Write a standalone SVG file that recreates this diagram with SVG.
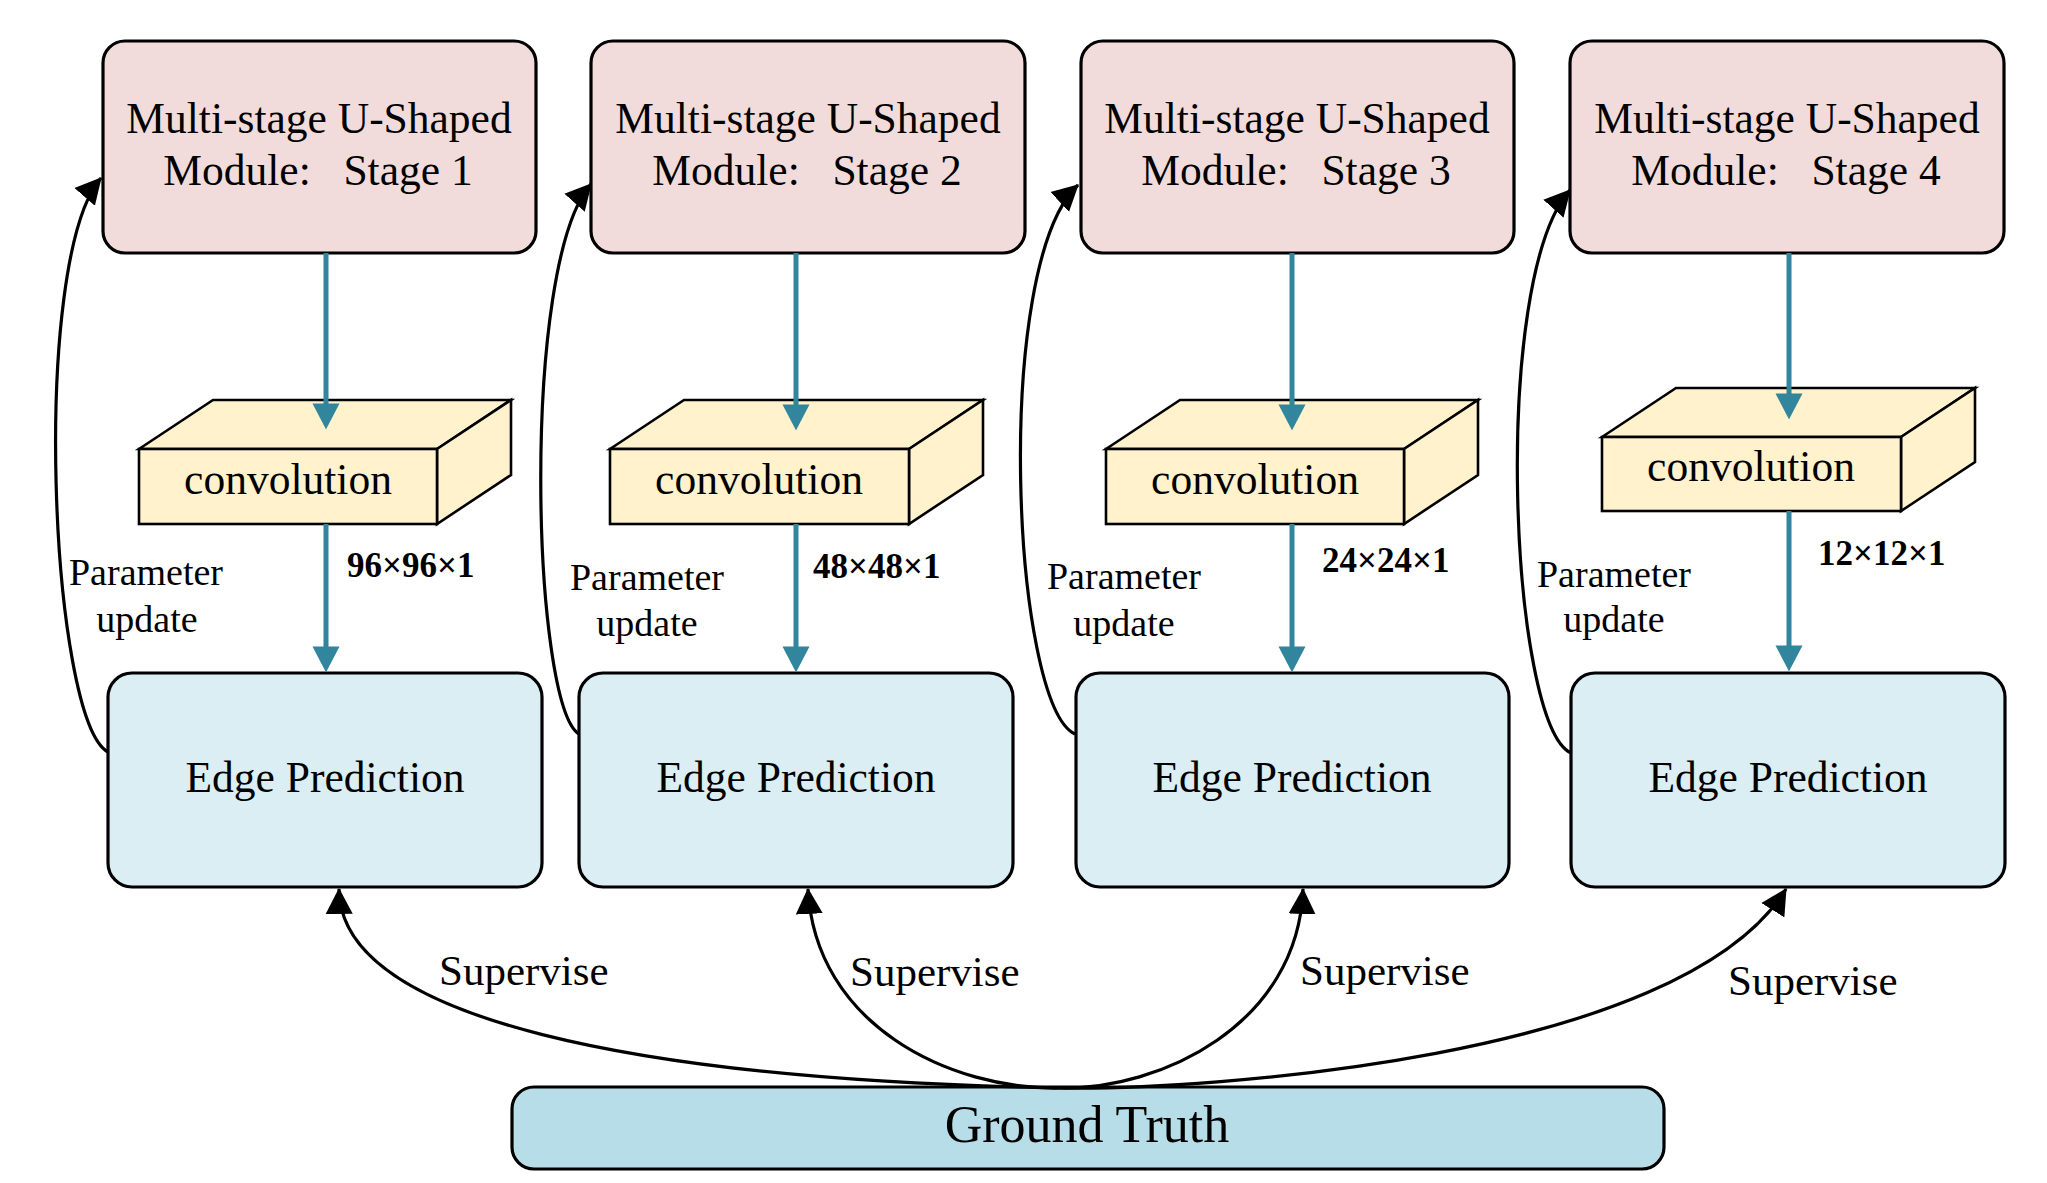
<svg xmlns="http://www.w3.org/2000/svg" width="2047" height="1183" viewBox="0 0 2047 1183">
<defs>
<style>
text{font-family:"Liberation Serif","Times New Roman",serif;fill:#000}
.stage{fill:#F2DCDB;stroke:#000;stroke-width:3.2}
.edge{fill:#DBEEF4;stroke:#000;stroke-width:3.2}
.gt{fill:#B7DEE8;stroke:#000;stroke-width:3.2}
.conv{fill:#FFF2CC;stroke:#000;stroke-width:2.6;stroke-linejoin:miter}
.t43{font-size:43.5px;text-anchor:middle;white-space:pre}
.param{font-size:38px;text-anchor:middle}
.dim{font-size:35px;font-weight:bold}
.sup{font-size:43px}
.teal{fill:none;stroke:#31859C;stroke-width:5}
.blk{fill:none;stroke:#000;stroke-width:3.2}
</style>
<marker id="ah-teal" markerUnits="userSpaceOnUse" markerWidth="26" markerHeight="28" viewBox="0 0 25 26" refX="15" refY="13" orient="auto">
<path d="M0,0 L25,13 L0,26 Z" fill="#31859C"/>
</marker>
<marker id="ah-blk" markerUnits="userSpaceOnUse" markerWidth="26" markerHeight="28" viewBox="0 0 25 26" refX="24" refY="13" orient="auto">
<path d="M0,0 L25,13 L0,26 Z" fill="#000"/>
</marker>
</defs>
<rect width="2047" height="1183" fill="#fff"/>

<g id="stage1"><rect class="stage" x="103" y="41" width="433" height="212" rx="22"/><text class="t43" x="319" y="133">Multi-stage U-Shaped</text><text class="t43" x="318" y="185">Module:   Stage 1</text></g>
<g id="stage2"><rect class="stage" x="591" y="41" width="434" height="212" rx="22"/><text class="t43" x="808" y="133">Multi-stage U-Shaped</text><text class="t43" x="807" y="185">Module:   Stage 2</text></g>
<g id="stage3"><rect class="stage" x="1081" y="41" width="433" height="212" rx="22"/><text class="t43" x="1297" y="133">Multi-stage U-Shaped</text><text class="t43" x="1296" y="185">Module:   Stage 3</text></g>
<g id="stage4"><rect class="stage" x="1570" y="41" width="434" height="212" rx="22"/><text class="t43" x="1787" y="133">Multi-stage U-Shaped</text><text class="t43" x="1786" y="185">Module:   Stage 4</text></g>

<g id="conv1"><path class="conv" d="M139,449 L213,400 L511,400 L437,449 Z"/><path class="conv" d="M437,449 L511,400 L511,475 L437,524 Z"/><rect class="conv" x="139" y="449" width="298" height="75"/><text class="t43" x="288" y="494">convolution</text></g>
<g id="conv2"><path class="conv" d="M610,449 L684,400 L983,400 L909,449 Z"/><path class="conv" d="M909,449 L983,400 L983,475 L909,524 Z"/><rect class="conv" x="610" y="449" width="299" height="75"/><text class="t43" x="759" y="494">convolution</text></g>
<g id="conv3"><path class="conv" d="M1106,449 L1180,400 L1478,400 L1404,449 Z"/><path class="conv" d="M1404,449 L1478,400 L1478,475 L1404,524 Z"/><rect class="conv" x="1106" y="449" width="298" height="75"/><text class="t43" x="1255" y="494">convolution</text></g>
<g id="conv4"><path class="conv" d="M1602,437 L1676,388 L1975,388 L1901,437 Z"/><path class="conv" d="M1901,437 L1975,388 L1975,462 L1901,511 Z"/><rect class="conv" x="1602" y="437" width="299" height="74"/><text class="t43" x="1751" y="481">convolution</text></g>

<g id="edge1"><rect class="edge" x="108" y="673" width="434" height="214" rx="24"/><text class="t43" x="325" y="792">Edge Prediction</text></g>
<g id="edge2"><rect class="edge" x="579" y="673" width="434" height="214" rx="24"/><text class="t43" x="796" y="792">Edge Prediction</text></g>
<g id="edge3"><rect class="edge" x="1076" y="673" width="433" height="214" rx="24"/><text class="t43" x="1292" y="792">Edge Prediction</text></g>
<g id="edge4"><rect class="edge" x="1571" y="673" width="434" height="214" rx="24"/><text class="t43" x="1788" y="792">Edge Prediction</text></g>

<g id="ground-truth"><rect class="gt" x="512" y="1087" width="1152" height="82" rx="22"/><text x="1087" y="1142" style="font-size:52px;text-anchor:middle">Ground Truth</text></g>

<g id="connectors">
<path class="teal" d="M326,253 L326,419" marker-end="url(#ah-teal)"/>
<path class="teal" d="M326,524 L326,662" marker-end="url(#ah-teal)"/>
<path class="teal" d="M796,253 L796,420" marker-end="url(#ah-teal)"/>
<path class="teal" d="M796,524 L796,662" marker-end="url(#ah-teal)"/>
<path class="teal" d="M1292,253 L1292,420" marker-end="url(#ah-teal)"/>
<path class="teal" d="M1292,524 L1292,662" marker-end="url(#ah-teal)"/>
<path class="teal" d="M1789,253 L1789,409" marker-end="url(#ah-teal)"/>
<path class="teal" d="M1789,511 L1789,661" marker-end="url(#ah-teal)"/>

<path class="blk" d="M108,752 C50,720 30,260 101,178" marker-end="url(#ah-blk)"/>
<path class="blk" d="M579,734 C532,705 520,265 591,184" marker-end="url(#ah-blk)"/>
<path class="blk" d="M1075,734 C1012,705 992,265 1078,185" marker-end="url(#ah-blk)"/>
<path class="blk" d="M1571,753 C1510,725 1490,280 1570,190" marker-end="url(#ah-blk)"/>

<path class="blk" d="M1060,1088 C640,1080 340,1020 339,889" marker-end="url(#ah-blk)"/>
<path class="blk" d="M1060,1088 C950,1090 815,1025 808,889" marker-end="url(#ah-blk)"/>
<path class="blk" d="M1060,1088 C1160,1090 1298,1025 1303,889" marker-end="url(#ah-blk)"/>
<path class="blk" d="M1060,1088 C1200,1090 1680,1060 1786,889" marker-end="url(#ah-blk)"/>
</g>

<g id="labels">
<text class="dim" x="347" y="577">96×96×1</text>
<text class="dim" x="813" y="578">48×48×1</text>
<text class="dim" x="1322" y="572">24×24×1</text>
<text class="dim" x="1818" y="565">12×12×1</text>
<text class="param" x="146" y="585">Parameter</text><text class="param" x="147" y="632">update</text>
<text class="param" x="647" y="590">Parameter</text><text class="param" x="647" y="636">update</text>
<text class="param" x="1124" y="589">Parameter</text><text class="param" x="1124" y="636">update</text>
<text class="param" x="1614" y="587">Parameter</text><text class="param" x="1614" y="632">update</text>
<text class="sup" x="439" y="985">Supervise</text>
<text class="sup" x="850" y="986">Supervise</text>
<text class="sup" x="1300" y="985">Supervise</text>
<text class="sup" x="1728" y="995">Supervise</text>
</g>
</svg>
